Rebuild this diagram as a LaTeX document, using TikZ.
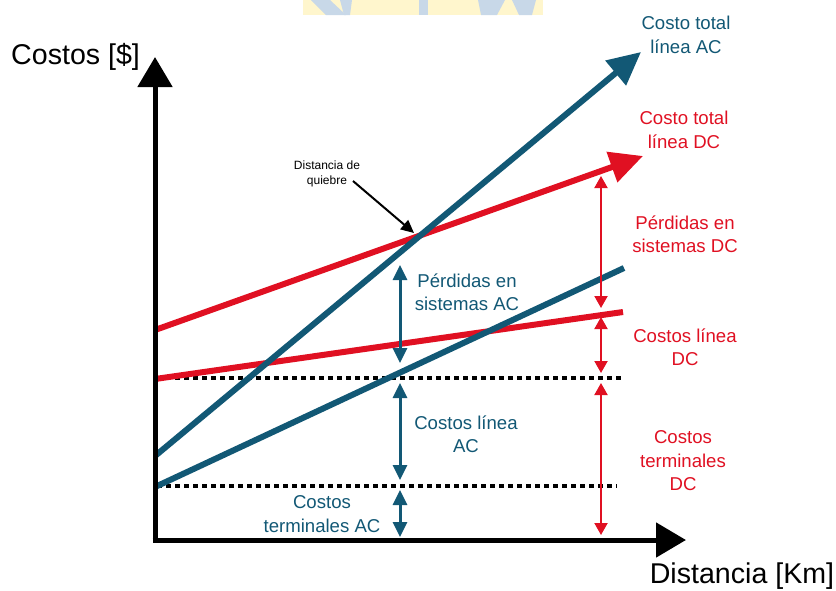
\documentclass[tikz,border=0pt]{standalone}
\usepackage{fontspec}
\setmainfont{Liberation Sans}
\usetikzlibrary{arrows.meta}
\definecolor{acblue}{RGB}{18,88,117}
\definecolor{dcred}{RGB}{224,16,34}
\definecolor{wmyellow}{RGB}{255,246,205}
\definecolor{wmblue}{RGB}{200,216,232}
\begin{document}
\begin{tikzpicture}[x=1pt,y=-1pt,
  axisline/.style={line width=5pt,-{Triangle[length=30pt,width=34pt]}},
  acbig/.style={acblue,line width=6pt,-{Triangle[length=33pt,width=31pt]}},
  dcbig/.style={dcred,line width=6pt,-{Triangle[length=33pt,width=31pt]}},
  acline/.style={acblue,line width=6pt},
  dcline/.style={dcred,line width=6pt},
  dotline/.style={black,line width=4pt,dash pattern=on 4.5pt off 4.5pt},
  acdim/.style={acblue,line width=3pt,{Triangle[length=15pt,width=14pt]}-{Triangle[length=15pt,width=14pt]}},
  dcdim/.style={dcred,line width=2pt,{Triangle[length=12pt,width=13pt]}-{Triangle[length=12pt,width=13pt]}},
  lab/.style={font=\fontsize{18.6}{23.5}\selectfont,align=center,inner sep=0pt},
  aclab/.style={lab,text=acblue},
  dclab/.style={lab,text=dcred},
  axlab/.style={font=\fontsize{28.6}{34}\selectfont,inner sep=0pt}]
\useasboundingbox (0,0) rectangle (836,590);
% watermark fragment
\fill[wmyellow] (303,0) rectangle (543,15);
\fill[wmblue] (311,0) -- (330,0) -- (346,15) -- (326,15) -- cycle;
\fill[wmblue] (340,0) -- (352,0) -- (350,15) -- (344,15) -- cycle;
\fill[wmblue] (419,0) rectangle (428,15);
\fill[wmblue] (478,0) -- (505,0) -- (497,15) -- (481,15) -- cycle;
\fill[wmblue] (512,0) -- (536,0) -- (532,15) -- (519,15) -- cycle;
% coordinates
\coordinate (O) at (155,540);
\coordinate (Ybot) at (155,542.5);
\coordinate (Ytop) at (155,57);
\coordinate (Xl) at (152.5,540);
\coordinate (Xr) at (686,540);
\coordinate (acT0) at (155,456);
\coordinate (acT1) at (641,52);
\coordinate (dcT0) at (155,330);
\coordinate (dcT1) at (643,156);
\coordinate (dcL0) at (155,379);
\coordinate (dcL1) at (623,312);
\coordinate (acL0) at (155,487);
\coordinate (acL1) at (624,268);
\coordinate (d10) at (157,378);
\coordinate (d11) at (621,378);
\coordinate (d20) at (157,486);
\coordinate (d21) at (617,486);
% dotted levels
\draw[dotline] (d10) -- (d11);
\draw[dotline] (d20) -- (d21);
% cost lines
\draw[dcline] (dcL0) -- (dcL1);
\draw[acline] (acL0) -- (acL1);
\draw[dcbig] (dcT0) -- (dcT1);
\draw[acbig] (acT0) -- (acT1);
% axes
\draw[axisline] (Ybot) -- (Ytop);
\draw[axisline] (Xl) -- (Xr);
\node[axlab,anchor=west] (ylab) at (11,57) {Costos [\$]};
\node[axlab] (xlab) at (742,576) {Distancia [Km]};
% AC dimension arrows
\coordinate (a1t) at (400,265);
\coordinate (a1b) at (400,363);
\coordinate (a2t) at (400,383);
\coordinate (a2b) at (400,480);
\coordinate (a3t) at (400,490);
\coordinate (a3b) at (400,537);
\draw[acdim] (a1t) -- (a1b);
\draw[acdim] (a2t) -- (a2b);
\draw[acdim] (a3t) -- (a3b);
% DC dimension arrows
\coordinate (r1t) at (601,176);
\coordinate (r1b) at (601,308);
\coordinate (r2t) at (601,317);
\coordinate (r2b) at (601,373);
\coordinate (r3t) at (601,383);
\coordinate (r3b) at (601,535);
\draw[dcdim] (r1t) -- (r1b);
\draw[dcdim] (r2t) -- (r2b);
\draw[dcdim] (r3t) -- (r3b);
% labels
\node[aclab] (lacT) at (686,35) {Costo total\\línea AC};
\node[dclab] (ldcT) at (684,130) {Costo total\\línea DC};
\node[dclab] (ldcP) at (685,234) {Pérdidas en\\sistemas DC};
\node[dclab] (ldcL) at (685,347) {Costos línea\\DC};
\node[dclab] (ldcTm) at (683,461) {Costos\\terminales\\DC};
\node[aclab] (lacP) at (467,292) {Pérdidas en\\sistemas AC};
\node[aclab] (lacL) at (466,434) {Costos línea\\AC};
\node[aclab] (lacTm) at (322,514) {Costos\\terminales AC};
% break distance
\node[font=\fontsize{12}{15.5}\selectfont,align=center,inner sep=0pt] (lq) at (327,174) {Distancia de\\quiebre};
\coordinate (q0) at (353,181);
\coordinate (q1) at (414,233);
\draw[line width=2pt,-{Triangle[length=13pt,width=12pt]}] (q0) -- (q1);
\end{tikzpicture}
\end{document}
